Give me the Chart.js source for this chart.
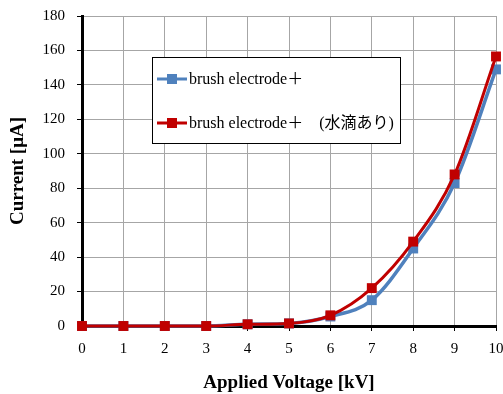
<!DOCTYPE html>
<html>
<head>
<meta charset="utf-8">
<script src="https://cdn.jsdelivr.net/npm/chart.js@4/dist/chart.umd.min.js"></script>
<style>
  html, body { margin: 0; padding: 0; background: #fff; }
  #wrap { width: 503px; height: 394px; position: relative; }
</style>
</head>
<body>
<div id="wrap"><canvas id="c" width="503" height="394"></canvas></div>
<script>
// Applied voltage steps [kV]
const voltages = [0, 1, 2, 3, 4, 5, 6, 7, 8, 9, 10];
// Measured current [µA]
const brushDry = [0, 0, 0, 0, 1, 1.5, 5.5, 15, 45, 83, 149];
const brushWet = [0, 0, 0, 0, 1, 1.5, 6.2, 22, 49, 88, 156.5];
const seriesLabels = ['brush electrode＋', 'brush electrode＋　(水滴あり)'];
const yTicks = [0, 20, 40, 60, 80, 100, 120, 140, 160, 180];

const BLUE = '#4F81BD';
const RED = '#C00000';
const SERIF = '"Liberation Serif", "Times New Roman", serif';

const toPoints = (ys) => voltages.map((v, i) => ({ x: v, y: ys[i] }));

// Legend box drawn inside the plot area
const boxLegend = {
  id: 'boxLegend',
  afterDraw(chart) {
    const ctx = chart.ctx;
    const bx = 152.5, by = 57.5, bw = 248, bh = 86;
    ctx.save();
    ctx.fillStyle = '#fff';
    ctx.fillRect(bx, by, bw, bh);
    ctx.strokeStyle = '#000';
    ctx.lineWidth = 1;
    ctx.strokeRect(bx, by, bw, bh);
    const rows = [
      { y: 79, color: BLUE, text: seriesLabels[0] },
      { y: 123, color: RED, text: seriesLabels[1] }
    ];
    rows.forEach(r => {
      ctx.strokeStyle = r.color;
      ctx.lineWidth = 3;
      ctx.beginPath();
      ctx.moveTo(157, r.y);
      ctx.lineTo(187, r.y);
      ctx.stroke();
      ctx.fillStyle = r.color;
      ctx.fillRect(167, r.y - 5, 10, 10);
      ctx.fillStyle = '#000';
      ctx.font = '16px ' + SERIF + ', "Noto Sans CJK JP"';
      ctx.textBaseline = 'middle';
      ctx.textAlign = 'left';
      ctx.fillText(r.text, 189, r.y + 1);
    });
    ctx.restore();
  }
};

new Chart(document.getElementById('c'), {
  type: 'line',
  data: {
    datasets: [
      {
        label: seriesLabels[0],
        data: toPoints(brushDry),
        borderColor: BLUE,
        backgroundColor: BLUE,
        borderWidth: 3.5,
        pointStyle: 'rect',
        pointRadius: 7,
        pointBorderWidth: 0,
        cubicInterpolationMode: 'monotone',
        clip: false,
        order: 1
      },
      {
        label: seriesLabels[1],
        data: toPoints(brushWet),
        borderColor: RED,
        backgroundColor: RED,
        borderWidth: 3,
        pointStyle: 'rect',
        pointRadius: 7,
        pointBorderWidth: 0,
        cubicInterpolationMode: 'monotone',
        clip: false,
        order: 0
      }
    ]
  },
  options: {
    responsive: false,
    animation: false,
    devicePixelRatio: 1,
    layout: { padding: { top: 16, right: 7, left: 0, bottom: 0 } },
    plugins: { legend: { display: false }, tooltip: { enabled: false } },
    scales: {
      x: {
        type: 'linear',
        min: 0,
        max: 10,
        afterFit(s) { s.height = 68; s.paddingLeft = 0; s.paddingRight = 0; },
        ticks: {
          stepSize: 1,
          color: '#000',
          padding: 9,
          maxRotation: 0,
          font: { family: SERIF, size: 15 }
        },
        grid: { color: '#a6a6a6', lineWidth: 1, tickLength: 5, tickColor: '#000' },
        border: { color: '#000', width: 3 },
        title: {
          display: true,
          text: 'Applied Voltage [kV]',
          color: '#000',
          font: { family: SERIF, size: 19, weight: 'bold' },
          padding: { top: 4, bottom: 0 }
        }
      },
      y: {
        min: 0,
        max: 180,
        afterFit(s) { s.width = 82; s.paddingTop = 0; s.paddingBottom = 0; },
        afterBuildTicks(s) { s.ticks = yTicks.map(v => ({ value: v })); },
        ticks: {
          color: '#000',
          padding: 12,
          font: { family: SERIF, size: 15 }
        },
        grid: { color: '#a6a6a6', lineWidth: 1, tickLength: 5, tickColor: '#000' },
        border: { color: '#000', width: 3 },
        title: {
          display: true,
          text: 'Current [μA]',
          color: '#000',
          font: { family: SERIF, size: 19, weight: 'bold' },
          padding: { top: 7, bottom: 0 }
        }
      }
    }
  },
  plugins: [boxLegend]
});
</script>
</body>
</html>
